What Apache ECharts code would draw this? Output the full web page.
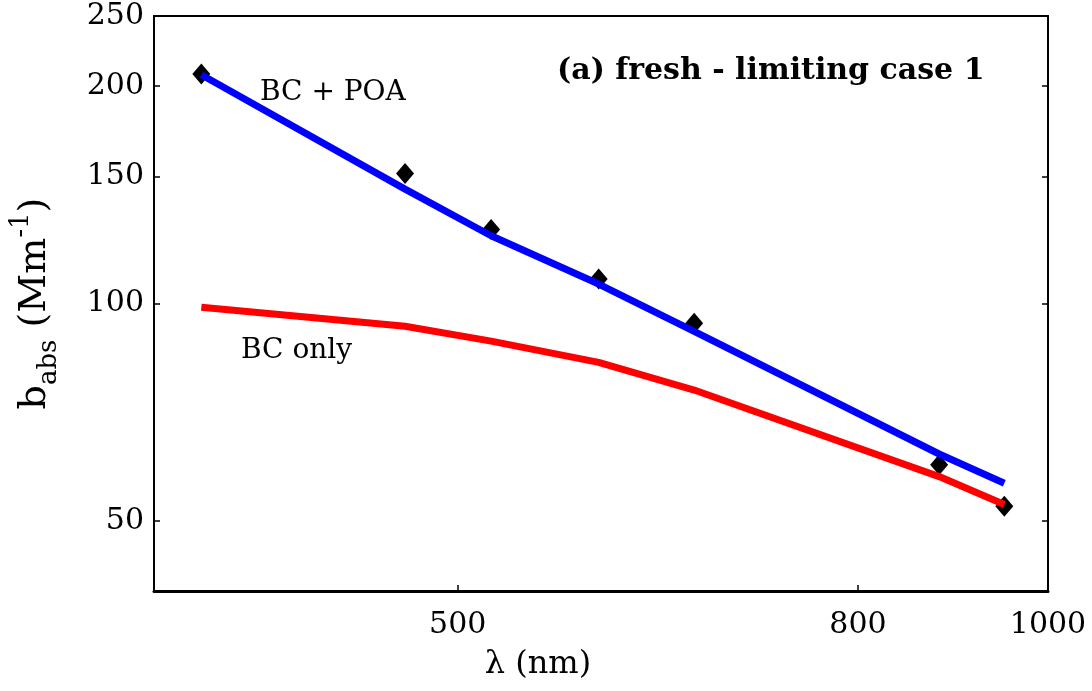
<!DOCTYPE html>
<html><head><meta charset="utf-8">
<script src="https://cdn.jsdelivr.net/npm/echarts@6/dist/echarts.min.js"></script>
<style>html,body{margin:0;padding:0;background:#fff}#c{width:1092px;height:691px}</style>
</head><body><div id="c"></div>
<script>
const wavelengths = [370, 470, 520, 590, 660, 880, 950];
const measured = [207.8, 151.3, 126.6, 108.1, 93.9, 59.8, 52.4];
const bcPoa = [207.3, 144.0, 124.1, 106.4, 91.5, 61.9, 56.4];
const bcOnly = [98.8, 93.0, 88.7, 82.9, 75.9, 57.6, 52.7];
const xTicks = [500, 800, 1000];
const yTicks = [50, 100, 150, 200, 250];

const FONT = 'DejaVu Serif';
const pair = (xs, ys) => xs.map((x, i) => [x, ys[i]]);
const chart = echarts.init(document.getElementById('c'), null, {renderer: 'canvas'});
const tickStyle = {color: '#000', width: 1.5};
chart.setOption({
  animation: false,
  grid: {left: 152, right: 44, top: 16, bottom: 100, show: true, borderColor: '#000', borderWidth: 2, backgroundColor: 'transparent'},
  xAxis: {
    type: 'log', min: 350, max: 1000,
    axisLine: {show: true, onZero: false, lineStyle: {color: '#000', width: 3}},
    axisTick: {show: true, inside: true, length: 6, customValues: xTicks, lineStyle: tickStyle},
    axisLabel: {customValues: xTicks, formatter: v => String(v), fontFamily: FONT, fontSize: 30, color: '#000', margin: 19},
    splitLine: {show: false}, minorTick: {show: false}
  },
  yAxis: [{
    type: 'log', min: 40, max: 250,
    axisLine: {show: true, lineStyle: {color: '#000', width: 2}},
    axisTick: {show: true, inside: true, length: 6, customValues: yTicks, lineStyle: tickStyle},
    axisLabel: {customValues: yTicks, formatter: v => String(v), fontFamily: FONT, fontSize: 30, color: '#000', margin: 10, padding: [5, 0, 0, 0]},
    splitLine: {show: false}, minorTick: {show: false},
    name: '{b|b}{sub|abs}{b| (Mm}{sup|-1}{b|)}', nameLocation: 'middle', nameGap: 92, nameRotate: 90,
    nameTextStyle: {
      fontFamily: FONT, fontSize: 38, color: '#000',
      rich: {
        b: {fontFamily: FONT, fontSize: 38, color: '#000', lineHeight: 54},
        sub: {fontFamily: FONT, fontSize: 26, color: '#000', verticalAlign: 'bottom', lineHeight: 26},
        sup: {fontFamily: FONT, fontSize: 26, color: '#000', verticalAlign: 'top', lineHeight: 26}
      }
    }
  }, {
    type: 'log', min: 40, max: 250, position: 'right',
    axisLine: {show: true, lineStyle: {color: '#000', width: 2}},
    axisTick: {show: true, inside: true, length: 6, customValues: yTicks, lineStyle: tickStyle},
    axisLabel: {show: false}, splitLine: {show: false}, minorTick: {show: false}
  }],
  series: [
    {type: 'scatter', data: pair(wavelengths, measured), symbol: 'diamond', symbolSize: [18, 21],
     itemStyle: {color: '#000', opacity: 1}, z: 2},
    {type: 'line', data: pair(wavelengths, bcPoa), symbol: 'none', lineStyle: {color: '#0000FF', width: 7}, z: 3},
    {type: 'line', data: pair(wavelengths, bcOnly), symbol: 'none', lineStyle: {color: '#FF0000', width: 7}, z: 4}
  ],
  graphic: [
    {type: 'text', left: 557, top: 56, style: {text: '(a) fresh - limiting case 1', font: 'bold 30px "DejaVu Serif"', fill: '#000'}},
    {type: 'text', left: 260, top: 79, style: {text: 'BC + POA', font: '28px "DejaVu Serif"', fill: '#000'}},
    {type: 'text', left: 241, top: 337, style: {text: 'BC only', font: '28px "DejaVu Serif"', fill: '#000'}},
    {type: 'text', x: 538, y: 665, style: {text: 'λ (nm)', font: '32px "DejaVu Serif"', fill: '#000', textAlign: 'center', textVerticalAlign: 'middle'}}
  ]
});
</script></body></html>
